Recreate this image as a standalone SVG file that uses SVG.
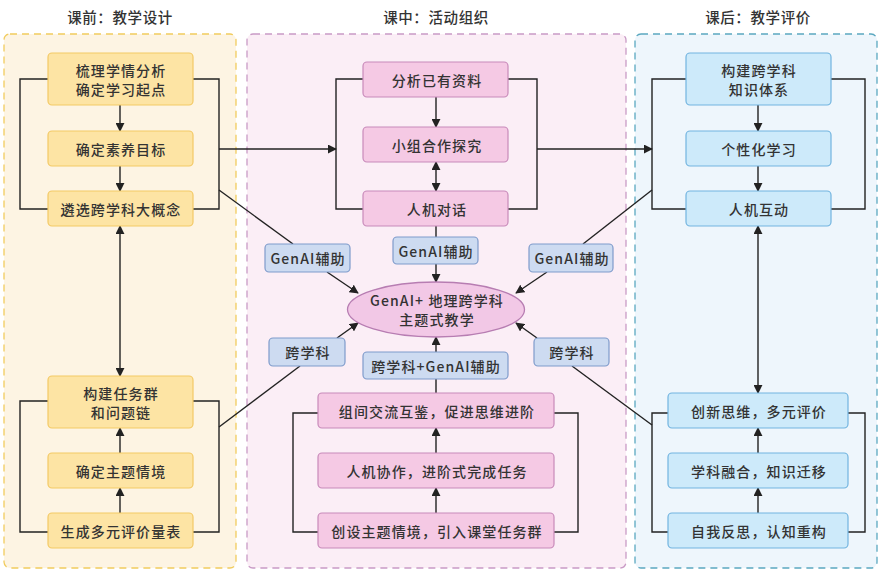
<svg xmlns="http://www.w3.org/2000/svg" width="879" height="570" viewBox="0 0 879 570">
<style>
text{font-family:"Noto Sans CJK SC","Noto Sans",sans-serif;font-size:14px;font-weight:500;letter-spacing:1.1px;fill:#333;text-anchor:middle;dominant-baseline:central}
.title{font-size:14.5px;letter-spacing:0.6px}
.pl{stroke-width:1.3;stroke-dasharray:7 5}
.ny{fill:#fde4a4;stroke:#f3c965;stroke-width:1.2}
.np{fill:#f5c9e4;stroke:#c88aba;stroke-width:1.2}
.nb{fill:#cdeafa;stroke:#72b4df;stroke-width:1.2}
.lb{fill:#cddbf1;stroke:#7f9bcb;stroke-width:1.2}
.c{fill:none;stroke:#222;stroke-width:1.4}
</style>
<defs>
<marker id="ah" viewBox="0 0 10 10" refX="9" refY="5" markerWidth="9" markerHeight="9" markerUnits="userSpaceOnUse" orient="auto-start-reverse">
<path d="M0,0 L10,5 L0,10 z" fill="#222"/>
</marker>
</defs>
<rect width="879" height="570" fill="#fff"/>
<g id="panels">
<rect class="pl" x="4" y="34" width="232" height="534" rx="6" fill="#fdf4e3" stroke="#f1cc5e"/>
<rect class="pl" x="247" y="34" width="379" height="534" rx="6" fill="#fbeef6" stroke="#c99bc6"/>
<rect class="pl" x="635" y="34" width="242" height="534" rx="6" fill="#eef6fc" stroke="#5ba8c0"/>
<text class="title" x="120" y="16">课前：教学设计</text>
<text class="title" x="436" y="16">课中：活动组织</text>
<text class="title" x="758" y="16">课后：教学评价</text>
</g>
<g id="connectors">
<polyline class="c" points="48,79 20,79 20,209 48,209"/>
<polyline class="c" points="193,79 219,79 219,209 193,209"/>
<polyline class="c" points="48,401 20,401 20,532 48,532"/>
<polyline class="c" points="193,401 219,401 219,532 193,532"/>
<line class="c" x1="120" y1="105" x2="120" y2="131" marker-end="url(#ah)"/>
<line class="c" x1="120" y1="166" x2="120" y2="191" marker-end="url(#ah)"/>
<line class="c" x1="120" y1="226" x2="120" y2="376" marker-start="url(#ah)" marker-end="url(#ah)"/>
<line class="c" x1="120" y1="453" x2="120" y2="428" marker-end="url(#ah)"/>
<line class="c" x1="120" y1="513" x2="120" y2="488" marker-end="url(#ah)"/>
<line class="c" x1="219" y1="149" x2="336" y2="149" marker-end="url(#ah)"/>
<line class="c" x1="219" y1="190" x2="293" y2="244"/>
<line class="c" x1="219" y1="427" x2="300" y2="366"/>

<polyline class="c" points="363,79 336,79 336,209 363,209"/>
<polyline class="c" points="508,79 537,79 537,209 508,209"/>
<polyline class="c" points="318,413 293,413 293,532 318,532"/>
<polyline class="c" points="554,413 578,413 578,532 554,532"/>
<line class="c" x1="436" y1="97" x2="436" y2="127" marker-end="url(#ah)"/>
<line class="c" x1="436" y1="162" x2="436" y2="191" marker-start="url(#ah)" marker-end="url(#ah)"/>
<line class="c" x1="436" y1="226" x2="436" y2="237"/>
<line class="c" x1="436" y1="264" x2="436" y2="282" marker-end="url(#ah)"/>
<line class="c" x1="327" y1="272" x2="358" y2="293" marker-end="url(#ah)"/>
<line class="c" x1="547" y1="272" x2="516" y2="293" marker-end="url(#ah)"/>
<line class="c" x1="337" y1="338" x2="358" y2="323" marker-end="url(#ah)"/>
<line class="c" x1="537" y1="338" x2="516" y2="323" marker-end="url(#ah)"/>
<line class="c" x1="436" y1="352" x2="436" y2="337" marker-end="url(#ah)"/>
<line class="c" x1="436" y1="393" x2="436" y2="379"/>
<line class="c" x1="436" y1="453" x2="436" y2="428" marker-end="url(#ah)"/>
<line class="c" x1="436" y1="513" x2="436" y2="488" marker-end="url(#ah)"/>
<line class="c" x1="537" y1="149" x2="652" y2="149" marker-end="url(#ah)"/>

<polyline class="c" points="686,79 652,79 652,209 686,209"/>
<polyline class="c" points="831,79 865,79 865,209 831,209"/>
<polyline class="c" points="668,413 652,413 652,532 668,532"/>
<polyline class="c" points="848,413 865,413 865,532 848,532"/>
<line class="c" x1="758" y1="105" x2="758" y2="131" marker-end="url(#ah)"/>
<line class="c" x1="758" y1="166" x2="758" y2="191" marker-end="url(#ah)"/>
<line class="c" x1="758" y1="226" x2="758" y2="393" marker-start="url(#ah)" marker-end="url(#ah)"/>
<line class="c" x1="758" y1="453" x2="758" y2="428" marker-end="url(#ah)"/>
<line class="c" x1="758" y1="513" x2="758" y2="488" marker-end="url(#ah)"/>
<line class="c" x1="652" y1="190" x2="583" y2="244"/>
<line class="c" x1="652" y1="425" x2="572" y2="366"/>
</g>

<g id="n-l1"><rect class="ny" x="48" y="53" width="145" height="52" rx="4"/><text x="121" y="70">梳理学情分析</text><text x="121" y="89">确定学习起点</text></g>
<g id="n-l2"><rect class="ny" x="48" y="131" width="145" height="35" rx="4"/><text x="121" y="148.5">确定素养目标</text></g>
<g id="n-l3"><rect class="ny" x="48" y="191" width="145" height="35" rx="4"/><text x="121" y="208.5">遴选跨学科大概念</text></g>
<g id="n-l4"><rect class="ny" x="48" y="376" width="145" height="52" rx="4"/><text x="121" y="393">构建任务群</text><text x="121" y="412">和问题链</text></g>
<g id="n-l5"><rect class="ny" x="48" y="453" width="145" height="35" rx="4"/><text x="121" y="470.5">确定主题情境</text></g>
<g id="n-l6"><rect class="ny" x="48" y="513" width="145" height="35" rx="4"/><text x="121" y="530.5">生成多元评价量表</text></g>

<g id="n-m1"><rect class="np" x="363" y="62" width="145" height="35" rx="4"/><text x="437" y="79.5">分析已有资料</text></g>
<g id="n-m2"><rect class="np" x="363" y="127" width="145" height="35" rx="4"/><text x="437" y="144.5">小组合作探究</text></g>
<g id="n-m3"><rect class="np" x="363" y="191" width="145" height="35" rx="4"/><text x="437" y="208.5">人机对话</text></g>
<g id="n-m4"><rect class="np" x="318" y="393" width="236" height="35" rx="4"/><text x="437" y="410.5">组间交流互鉴，促进思维进阶</text></g>
<g id="n-m5"><rect class="np" x="318" y="453" width="236" height="35" rx="4"/><text x="437" y="470.5">人机协作，进阶式完成任务</text></g>
<g id="n-m6"><rect class="np" x="318" y="513" width="236" height="35" rx="4"/><text x="437" y="530.5">创设主题情境，引入课堂任务群</text></g>

<g id="n-center"><ellipse cx="436" cy="309.5" rx="88.5" ry="27.5" fill="#f2c8e6" stroke="#b77db2" stroke-width="1.3"/><text x="437" y="300">GenAI+ 地理跨学科</text><text x="437" y="319">主题式教学</text></g>

<g id="lb-genai-c"><rect class="lb" x="393" y="237" width="85" height="27" rx="4"/><text x="436" y="250.5">GenAI辅助</text></g>
<g id="lb-genai-l"><rect class="lb" x="265" y="244" width="85" height="28" rx="4"/><text x="308" y="258">GenAI辅助</text></g>
<g id="lb-genai-r"><rect class="lb" x="529" y="244" width="84" height="28" rx="4"/><text x="572" y="258">GenAI辅助</text></g>
<g id="lb-kxk-l"><rect class="lb" x="269" y="338" width="76" height="28" rx="4"/><text x="308" y="352">跨学科</text></g>
<g id="lb-kxk-r"><rect class="lb" x="534" y="338" width="75" height="28" rx="4"/><text x="572" y="352">跨学科</text></g>
<g id="lb-kxk-c"><rect class="lb" x="363" y="352" width="145" height="27" rx="4"/><text x="436" y="365.5">跨学科+GenAI辅助</text></g>

<g id="n-r1"><rect class="nb" x="686" y="53" width="145" height="52" rx="4"/><text x="759" y="70">构建跨学科</text><text x="759" y="89">知识体系</text></g>
<g id="n-r2"><rect class="nb" x="686" y="131" width="145" height="35" rx="4"/><text x="759" y="148.5">个性化学习</text></g>
<g id="n-r3"><rect class="nb" x="686" y="191" width="145" height="35" rx="4"/><text x="759" y="208.5">人机互动</text></g>
<g id="n-r4"><rect class="nb" x="668" y="393" width="180" height="35" rx="4"/><text x="759" y="410.5">创新思维，多元评价</text></g>
<g id="n-r5"><rect class="nb" x="668" y="453" width="180" height="35" rx="4"/><text x="759" y="470.5">学科融合，知识迁移</text></g>
<g id="n-r6"><rect class="nb" x="668" y="513" width="180" height="35" rx="4"/><text x="759" y="530.5">自我反思，认知重构</text></g>
</svg>
